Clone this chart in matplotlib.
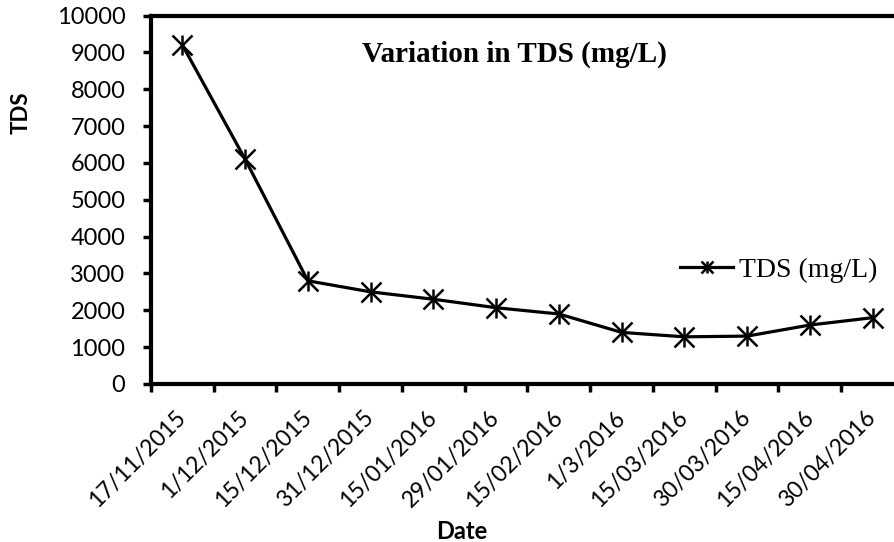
import numpy as np
import matplotlib.pyplot as plt
from matplotlib.legend_handler import HandlerTuple

# sampling dates and TDS readings (mg/L)
dates = ['17/11/2015', '1/12/2015', '15/12/2015', '31/12/2015', '15/01/2016',
         '29/01/2016', '15/02/2016', '1/3/2016', '15/03/2016', '30/03/2016',
         '15/04/2016', '30/04/2016']
tds = [9200, 6100, 2800, 2500, 2300, 2070, 1900, 1400, 1280, 1300, 1600, 1800]
y_ticks = list(range(0, 10001, 1000))

fig = plt.figure(figsize=(8.95, 5.42), dpi=100)
ax = fig.add_axes([151 / 895, 1 - 384 / 542, 753 / 895, 368.5 / 542])

# star marker = an x with a vertical bar laid over it
x = np.arange(len(dates))
line, = ax.plot(x, tds, color='black', lw=2.3, marker='x', ms=15, mew=1.8)
bar, = ax.plot(x, tds, color='black', lw=0, marker='|', ms=15, mew=1.8)

ax.set_xlim(-0.5, len(dates) - 0.5)
ax.set_ylim(0, 10000)
ax.set_yticks(y_ticks)
ax.set_yticklabels([str(v) for v in y_ticks], family='Lato', fontsize=17)

# category ticks sit between the labels, as in a spreadsheet chart
ax.set_xticks(np.arange(len(dates) + 1) - 0.5)
ax.set_xticklabels([])
ax.set_xticks(x, minor=True)
ax.set_xticklabels(dates, minor=True, rotation=45, ha='right', va='center',
                   rotation_mode='anchor', family='Lato', fontsize=16.5)
ax.tick_params(axis='x', which='minor', length=0, pad=22)
ax.tick_params(axis='y', which='major', pad=12.5)
ax.tick_params(axis='both', which='major', direction='out', length=6, width=2.5)

for side in ['left', 'bottom', 'top']:
    ax.spines[side].set_linewidth(3)
ax.spines['right'].set_visible(False)

ax.set_xlabel('Date', family='Lato', fontweight='bold', fontsize=17)
ax.set_ylabel('TDS', family='Lato', fontweight='bold', fontsize=16)
ax.xaxis.set_label_coords(0.413, -0.369)
ax.yaxis.set_label_coords(-0.158, 0.735)

ax.text(0.482, 0.895, 'Variation in TDS (mg/L)', transform=ax.transAxes,
        ha='center', va='center', family='Liberation Serif',
        fontweight='bold', fontsize=21)

ax.legend([(line, bar)], ['TDS (mg/L)'],
          handler_map={tuple: HandlerTuple(ndivide=1, pad=0)},
          loc='center left', bbox_to_anchor=(0.703, 0.309), frameon=False,
          borderaxespad=0, borderpad=0, handlelength=1.9, handletextpad=0.2,
          markerscale=0.6, prop={'family': 'Liberation Serif', 'size': 20})

fig.savefig('out.png', dpi=100)
